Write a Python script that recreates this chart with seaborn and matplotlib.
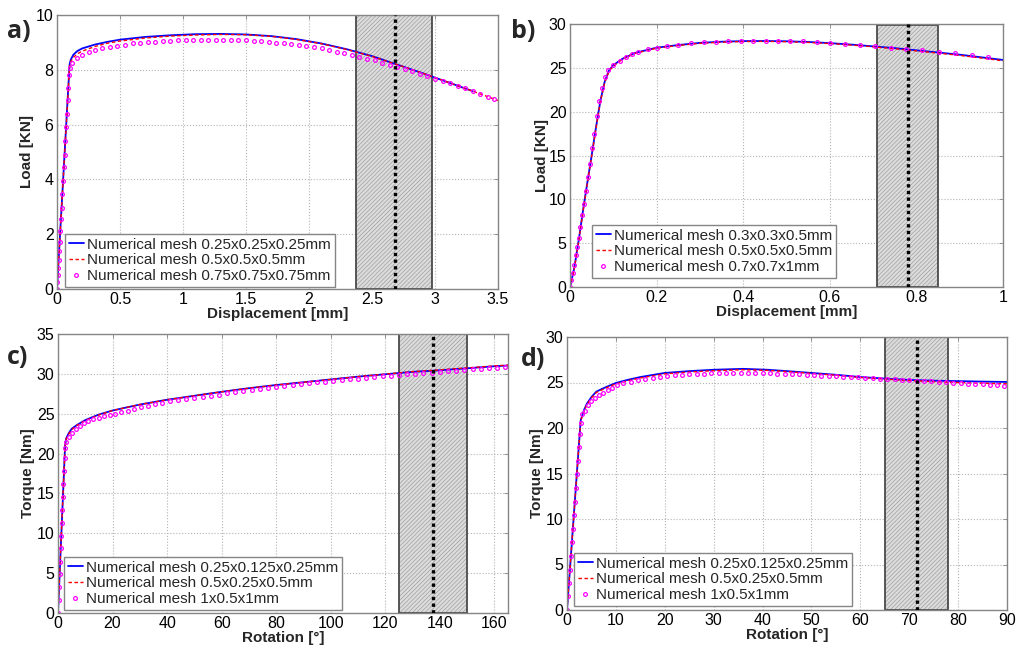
import matplotlib
matplotlib.use('Agg')
import matplotlib.pyplot as plt
import seaborn as sns
from matplotlib.ticker import FuncFormatter, MultipleLocator

# ---------------- DATA ----------------
# Panel a
A_LABELS = ["Numerical mesh 0.25x0.25x0.25mm", "Numerical mesh 0.5x0.5x0.5mm",
            "Numerical mesh 0.75x0.75x0.75mm"]
A_X_BLUE = [0, 0.1, 0.11, 0.13, 0.16, 0.2, 0.3, 0.4, 0.5, 0.7, 0.9, 1.1, 1.3, 1.5, 1.7,
            1.9, 2.1, 2.3, 2.5, 2.7, 2.9, 3.1, 3.3]
A_BLUE = [0, 8.2, 8.38, 8.55, 8.68, 8.78, 8.92, 9.02, 9.1, 9.2, 9.26, 9.3, 9.31, 9.29, 9.23,
          9.12, 8.96, 8.75, 8.5, 8.19, 7.88, 7.55, 7.22]
A_X_RED = [0, 0.1, 0.11, 0.13, 0.16, 0.2, 0.3, 0.4, 0.5, 0.7, 0.9, 1.1, 1.3, 1.5, 1.7,
           1.9, 2.1, 2.3, 2.5, 2.7, 2.9, 3.1, 3.3, 3.5]
A_RED = [0, 8.15, 8.3, 8.45, 8.58, 8.68, 8.85, 8.97, 9.05, 9.16, 9.23, 9.27, 9.29, 9.28, 9.22,
         9.11, 8.95, 8.74, 8.49, 8.19, 7.88, 7.55, 7.22, 6.88]
A_X_MAG = [0, 0.003, 0.006, 0.009, 0.013, 0.017, 0.021, 0.026, 0.031, 0.036, 0.042, 0.048,
           0.054, 0.06, 0.066, 0.072, 0.078, 0.084, 0.09, 0.096, 0.102,
           0.12, 0.16, 0.2, 0.25, 0.3, 0.36, 0.42, 0.48, 0.54, 0.6, 0.66, 0.72, 0.78, 0.84,
           0.9, 0.96, 1.02, 1.08, 1.14, 1.2, 1.26, 1.32, 1.38, 1.44, 1.5, 1.56, 1.62, 1.68,
           1.74, 1.8, 1.86, 1.92, 1.98, 2.04, 2.1, 2.16, 2.22, 2.28, 2.34, 2.4, 2.46, 2.52,
           2.58, 2.64, 2.7, 2.76, 2.82, 2.88, 2.94, 3.0, 3.06, 3.12, 3.18, 3.24, 3.3, 3.36,
           3.42, 3.47]
A_MAG = [0, 0.25, 0.5, 0.75, 1.05, 1.4, 1.7, 2.1, 2.55, 2.95, 3.45, 3.95, 4.45, 4.9, 5.4,
         5.9, 6.4, 6.9, 7.35, 7.8, 8.05,
         8.25, 8.43, 8.55, 8.65, 8.72, 8.78, 8.84, 8.88, 8.92, 8.96, 8.98, 9.01, 9.03, 9.05,
         9.06, 9.07, 9.08, 9.09, 9.1, 9.1, 9.1, 9.1, 9.1, 9.09, 9.08, 9.06, 9.04, 9.02,
         8.99, 8.97, 8.94, 8.91, 8.87, 8.83, 8.78, 8.72, 8.66, 8.6, 8.54, 8.47, 8.41, 8.34,
         8.26, 8.19, 8.11, 8.03, 7.94, 7.85, 7.77, 7.68, 7.59, 7.5, 7.41, 7.32, 7.22, 7.12,
         7.01, 6.92]

# Panel b
B_LABELS = ["Numerical mesh 0.3x0.3x0.5mm", "Numerical mesh 0.5x0.5x0.5mm",
            "Numerical mesh 0.7x0.7x1mm"]
B_X_LINE = [0, 0.01, 0.02, 0.03, 0.04, 0.05, 0.06, 0.07, 0.08, 0.09, 0.1, 0.12, 0.15, 0.2,
            0.25, 0.3, 0.35, 0.4, 0.45, 0.5, 0.55, 0.6, 0.65, 0.7, 0.75, 0.8, 0.85, 0.9,
            0.95, 1.0]
B_BLUE = [0, 2.2, 5.3, 8.7, 11.9, 15.0, 18.2, 21.2, 23.4, 24.7, 25.3, 26.0, 26.7, 27.3,
          27.6, 27.85, 27.98, 28.05, 28.06, 28.03, 27.95, 27.82, 27.65, 27.45, 27.25, 27.0,
          26.75, 26.5, 26.2, 25.9]
B_RED = [0, 2.1, 5.2, 8.6, 11.8, 14.9, 18.1, 21.1, 23.3, 24.6, 25.2, 25.95, 26.65, 27.25,
         27.55, 27.8, 27.93, 28.0, 28.02, 27.98, 27.9, 27.77, 27.6, 27.4, 27.18, 26.93,
         26.68, 26.42, 26.12, 25.8]
B_X_MAG = [0, 0.003, 0.006, 0.009, 0.013, 0.016, 0.02, 0.024, 0.028, 0.032, 0.036, 0.041,
           0.046, 0.051, 0.056, 0.062, 0.068, 0.074, 0.081, 0.088, 0.1, 0.115, 0.129, 0.143,
           0.158, 0.18, 0.2, 0.225, 0.25, 0.28, 0.31, 0.338, 0.366, 0.395, 0.423, 0.452,
           0.48, 0.508, 0.538, 0.57, 0.6, 0.635, 0.67, 0.704, 0.742, 0.777, 0.814, 0.852,
           0.89, 0.929, 0.965]
B_MAG = [0, 0.8, 1.6, 2.5, 3.6, 4.6, 5.6, 6.9, 8.2, 9.5, 11.0, 12.5, 14.0, 15.8, 17.5,
         19.5, 21.2, 22.7, 24.0, 24.8, 25.3, 25.8, 26.25, 26.6, 26.85, 27.1, 27.3, 27.5,
         27.65, 27.8, 27.9, 28.0, 28.02, 28.05, 28.08, 28.08, 28.08, 28.06, 28.03, 27.95,
         27.85, 27.72, 27.6, 27.45, 27.3, 27.12, 26.98, 26.82, 26.65, 26.45, 26.28]

# Panel c
C_LABELS = ["Numerical mesh 0.25x0.125x0.25mm", "Numerical mesh 0.5x0.25x0.5mm",
            "Numerical mesh 1x0.5x1mm"]
C_X_LINE = [0, 2.6, 3, 4, 5, 7, 10, 15, 20, 30, 40, 50, 60, 70, 80, 90, 100, 110, 120, 130,
            140, 150, 160, 165]
C_BLUE = [0, 21.0, 21.9, 22.6, 23.1, 23.6, 24.2, 24.9, 25.4, 26.15, 26.75, 27.25, 27.75,
          28.2, 28.6, 28.95, 29.3, 29.65, 29.95, 30.25, 30.45, 30.7, 30.95, 31.05]
C_RED = [0, 20.9, 21.8, 22.5, 23.0, 23.55, 24.15, 24.85, 25.4, 26.15, 26.75, 27.25, 27.75,
         28.2, 28.6, 28.95, 29.3, 29.65, 29.97, 30.27, 30.5, 30.75, 31.0, 31.1]
C_X_MAG = [0, 0.2, 0.4, 0.6, 0.8, 1.0, 1.2, 1.4, 1.6, 1.8, 2.0, 2.2, 2.4, 2.6,
           3, 4, 5, 6.5, 8, 9.5, 11, 13, 15, 17, 19, 21, 23, 25.5, 28, 30.5, 33, 35.5, 38,
           41, 44, 47, 50, 53, 56, 59, 62, 65, 68, 71, 74, 77, 80, 83, 86, 89, 92, 95, 98,
           101, 104, 107, 110, 113, 116, 119, 122, 125, 128, 131, 134, 137, 140, 143, 146,
           149, 152, 155, 158, 161, 164]
C_MAG = [0, 1.6, 3.2, 4.85, 6.45, 8.1, 9.7, 11.3, 12.9, 14.55, 16.15, 17.8, 19.4, 20.7,
         21.5, 22.1, 22.6, 23.05, 23.45, 23.8, 24.05, 24.3, 24.5, 24.67, 24.82, 24.98,
         25.16, 25.39, 25.6, 25.79, 25.98, 26.16, 26.35, 26.56, 26.71, 26.86, 27.0, 27.14,
         27.28, 27.41, 27.56, 27.71, 27.85, 28.0, 28.13, 28.27, 28.4, 28.52, 28.63, 28.74,
         28.85, 28.94, 29.04, 29.13, 29.22, 29.31, 29.4, 29.49, 29.58, 29.67, 29.76, 29.84,
         29.92, 30.01, 30.09, 30.17, 30.25, 30.33, 30.4, 30.48, 30.55, 30.63, 30.71, 30.78,
         30.85]

# Panel d
D_LABELS = ["Numerical mesh 0.25x0.125x0.25mm", "Numerical mesh 0.5x0.25x0.5mm",
            "Numerical mesh 1x0.5x1mm"]
D_X_LINE = [0, 2.8, 3.5, 4.1, 5, 6, 8, 10, 12.5, 15, 20, 25, 30, 36, 41, 45, 50, 55, 60, 65,
            70, 75, 80, 85, 90]
D_BLUE = [0, 20.85, 22.0, 22.7, 23.4, 24.0, 24.5, 24.95, 25.3, 25.6, 26.05, 26.25, 26.4,
          26.5, 26.4, 26.25, 26.05, 25.85, 25.6, 25.43, 25.28, 25.2, 25.15, 25.1, 25.06]
D_RED = [0, 20.8, 21.9, 22.6, 23.3, 23.9, 24.4, 24.85, 25.2, 25.5, 25.95, 26.15, 26.3, 26.4,
         26.33, 26.2, 26.0, 25.8, 25.55, 25.38, 25.22, 25.1, 25.0, 24.92, 24.85]
D_X_MAG = [0, 0.2, 0.4, 0.6, 0.8, 1.0, 1.2, 1.4, 1.6, 1.8, 2.0, 2.2, 2.4, 2.6, 2.8, 3.1,
           3.6, 4.2, 4.9, 5.7, 6.5, 7.4, 8.3, 9.3, 10.3, 11.5, 13, 14.5, 16, 17.5, 19, 20.5,
           22, 23.5, 25, 26.5, 28, 29.5, 31, 32.5, 34, 35.5, 37, 38.5, 40, 41.5, 43, 44.5,
           46, 47.5, 49, 50.5, 52, 53.5, 55, 56.5, 58, 59.5, 61, 62.5, 64, 65.5, 67, 68.5,
           70, 71.5, 73, 74.5, 76, 77.5, 79, 80.5, 82, 83.5, 85, 86.5, 88, 89.3]
D_MAG = [0, 1.5, 3.0, 4.45, 5.95, 7.45, 8.95, 10.4, 11.9, 13.4, 14.9, 16.4, 17.9, 19.35,
         20.6, 21.5,
         21.9, 22.5, 22.95, 23.35, 23.65, 23.9, 24.15, 24.45, 24.7, 24.9, 25.1, 25.25,
         25.38, 25.5, 25.62, 25.72, 25.78, 25.85, 25.9, 25.93, 25.96, 25.99, 26.01, 26.03,
         26.04, 26.05, 26.05, 26.04, 26.02, 26.0, 25.98, 25.96, 25.92, 25.88, 25.83, 25.79,
         25.75, 25.71, 25.68, 25.64, 25.6, 25.55, 25.51, 25.47, 25.43, 25.38, 25.34, 25.3,
         25.25, 25.2, 25.16, 25.11, 25.07, 25.02, 24.98, 24.93, 24.89, 24.84, 24.8, 24.75,
         24.7, 24.64]

# shaded zones (start, end) and dotted line position
A_ZONE, A_VLINE = (2.37, 2.98), 2.68
B_ZONE, B_VLINE = (0.71, 0.85), 0.78
C_ZONE, C_VLINE = (125, 150), 137.5
D_ZONE, D_VLINE = (65, 78), 71.5

# ---------------- STYLE ----------------
sns.set_style('white')
plt.rcParams['font.family'] = ['Liberation Sans', 'DejaVu Sans']
plt.rcParams['hatch.linewidth'] = 0.45
plt.rcParams['axes.unicode_minus'] = False

W, H = 1017, 647
fig = plt.figure(figsize=(W / 100, H / 100), dpi=100)
fig.patch.set_facecolor('white')


def rect(l, t, r, b):
    return [l / W, 1 - b / H, (r - l) / W, (b - t) / H]


BLUE = '#0000ff'
RED = '#ff0000'
MAG = '#ff00ff'


def panel(box, xb, yb, xr, yr, xm, ym, labels, xlim, ylim, xstep, ystep, zone, vline,
          xlabel, ylabel, leg_off, zone_top=1.0, ylab_x=-0.052, letter=None, letter_pos=None):
    ax = fig.add_axes(rect(*box))
    l, t, r, b = box
    ax.axvspan(zone[0], zone[1], ymin=0, ymax=zone_top, facecolor='#dcdcdc',
               edgecolor='#9a9a9a', hatch='////////', lw=0, zorder=1)
    ax.axvspan(zone[0], zone[1], ymin=0, ymax=zone_top, fill=False,
               edgecolor='#4a4a4a', lw=1.3, zorder=1.6)
    sns.lineplot(x=xb, y=yb, ax=ax, color=BLUE, lw=1.3, sort=False, estimator=None,
                 label=labels[0], zorder=2)
    sns.lineplot(x=xr, y=yr, ax=ax, color=RED, lw=1.0, sort=False, estimator=None,
                 dashes=False, linestyle=(0, (2.5, 1.8)), label=labels[1], zorder=2.2)
    sns.lineplot(x=xm, y=ym, ax=ax, color=MAG, sort=False, estimator=None,
                 linestyle='none', marker='o', markersize=2.7, markerfacecolor='none',
                 markeredgecolor=MAG, markeredgewidth=0.9, label=labels[2], zorder=2.4)
    ax.axvline(vline, color='black', lw=2.4, linestyle=(0, (1, 1)), zorder=4)
    ax.set_xlim(*xlim)
    ax.set_ylim(*ylim)
    ax.xaxis.set_major_locator(MultipleLocator(xstep))
    ax.yaxis.set_major_locator(MultipleLocator(ystep))
    fmt = FuncFormatter(lambda v, p: f'{v:g}')
    ax.xaxis.set_major_formatter(fmt)
    ax.yaxis.set_major_formatter(fmt)
    ax.grid(True, linestyle=':', color='#b3b3b3', lw=0.8)
    ax.set_axisbelow(True)
    for s in ax.spines.values():
        s.set_color('#858585')
        s.set_linewidth(1.0)
    ax.tick_params(direction='in', length=3, width=0.6, color='#858585', top=True,
                   right=True, labelsize=11.5, pad=2.5, labelcolor='black')
    ax.set_xlabel(xlabel, fontsize=11, fontweight='bold', labelpad=0)
    ax.set_ylabel(ylabel, fontsize=11, fontweight='bold')
    ax.yaxis.set_label_coords(ylab_x, 0.5)
    w, h = r - l, b - t
    leg = ax.legend(loc='lower left', bbox_to_anchor=(leg_off[0] / w, leg_off[1] / h),
                    borderaxespad=0, fontsize=11, frameon=True, fancybox=False,
                    edgecolor='#858585', framealpha=1, handlelength=1.0,
                    handletextpad=0.2, labelspacing=0.12, borderpad=0.25, numpoints=1)
    leg.get_frame().set_linewidth(1.0)
    fig.text(letter_pos[0] / W, 1 - letter_pos[1] / H, letter, fontsize=18,
             fontweight='bold', family=['Open Sans', 'DejaVu Sans'],
             ha='left', va='center')
    return ax


panel((57, 15, 498, 289), A_X_BLUE, A_BLUE, A_X_RED, A_RED, A_X_MAG, A_MAG, A_LABELS,
      (0, 3.5), (0, 10), 0.5, 2, A_ZONE, A_VLINE, 'Displacement [mm]', 'Load [KN]',
      (8, 2), ylab_x=-0.052, letter='a)', letter_pos=(7, 32))
panel((570, 24, 1003, 287), B_X_LINE, B_BLUE, B_X_LINE, B_RED, B_X_MAG, B_MAG, B_LABELS,
      (0, 1), (0, 30), 0.2, 5, B_ZONE, B_VLINE, 'Displacement [mm]', 'Load [KN]',
      (22, 9), zone_top=0.996, ylab_x=-0.049, letter='b)', letter_pos=(511, 32))
panel((58, 334, 508, 613), C_X_LINE, C_BLUE, C_X_LINE, C_RED, C_X_MAG, C_MAG, C_LABELS,
      (0, 165), (0, 35), 20, 5, C_ZONE, C_VLINE, 'Rotation [°]', 'Torque [Nm]',
      (6, 3), ylab_x=-0.051, letter='c)', letter_pos=(7, 357))
panel((567, 337, 1007, 610), D_X_LINE, D_BLUE, D_X_LINE, D_RED, D_X_MAG, D_MAG, D_LABELS,
      (0, 90), (0, 30), 10, 5, D_ZONE, D_VLINE, 'Rotation [°]', 'Torque [Nm]',
      (7, 4), ylab_x=-0.052, letter='d)', letter_pos=(521, 359))

fig.savefig('out.png', dpi=100, facecolor='white')
